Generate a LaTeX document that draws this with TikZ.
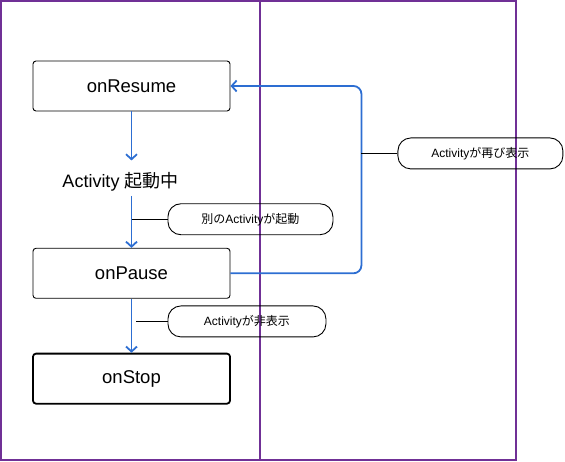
\documentclass[tikz,border=0pt]{standalone}
\usepackage{fontspec}
\setmainfont{Liberation Sans}
\newfontfamily\jp{Noto Sans CJK JP}
\usetikzlibrary{arrows.meta,positioning,calc}
\definecolor{lanepurple}{RGB}{112,48,150}
\definecolor{flowblue}{RGB}{45,110,210}
\tikzstyle{lane} = [rectangle, draw=lanepurple, line width=2pt, inner sep=0pt]
\tikzstyle{statebox} = [rectangle, rounded corners=3pt, draw=black, line width=0.9pt, minimum width=197pt, minimum height=50pt, text centered, font=\fontsize{18.5}{22}\selectfont]
\tikzstyle{notebox} = [rectangle, rounded corners=13pt, draw=black, line width=0.9pt, minimum height=31pt, text centered, font=\fontsize{12}{14}\selectfont]
\tikzstyle{flow} = [line width=1.8pt, color=flowblue, -{Straight Barb[length=5pt,width=11pt]}]
\tikzstyle{pointer} = [line width=0.9pt, color=black]

\begin{document}
\begin{tikzpicture}[x=1pt, y=-1pt]
\useasboundingbox (0,0) rectangle (565,462);

% Swim lanes
\node[lane, minimum width=259pt, minimum height=459pt] (laneA) at (130.5,230.5) {};
\node[lane, minimum width=256pt, minimum height=459pt] (laneB) at (388,230.5) {};

% States
\node[statebox] (resume) at (131.5,86) {onResume};
\node[minimum height=35pt, text height=22pt, text depth=3pt, font=\fontsize{18}{22}\selectfont, below=49pt of resume] (running) {\hspace*{-22pt}Activity {\jp 起動中}};
\node[statebox, below=52pt of running] (pause) {onPause};
\node[statebox, line width=1.8pt, below=54pt of pause] (stop) {onStop};

% Helper points
\coordinate (mid1) at ($(running.south)!0.45!(pause.north)$);
\coordinate (mid2) at ($(pause.south)!0.42!(stop.north)$);
\coordinate (back) at ($(pause.east)+(131pt,0)$);
\coordinate (mid3) at ($(back)!0.64!(back |- resume.east)$);

% Notes
\node[notebox, minimum width=165pt, right=36pt of mid1] (noteStart) {{\jp 別の}Activity{\jp が起動}};
\node[notebox, minimum width=158pt, right=36pt of mid2] (noteHide) {Activity{\jp が非表示}};
\node[notebox, minimum width=165pt, right=36pt of mid3] (noteShow) {Activity{\jp が再び表示}};

% Arrows
\draw[flow] (resume) -- (running);
\draw[flow] (running) -- (pause);
\draw[flow] (pause) -- (stop);
\draw[flow, rounded corners=8pt] (pause.east) -- (back) |- (resume.east);

% Note pointers
\draw[pointer] (noteStart.west) -- (mid1);
\draw[pointer] (noteHide.west) -- ($(mid2)+(4pt,0)$);
\draw[pointer] (noteShow.west) -- (mid3);

\end{tikzpicture}
\end{document}
